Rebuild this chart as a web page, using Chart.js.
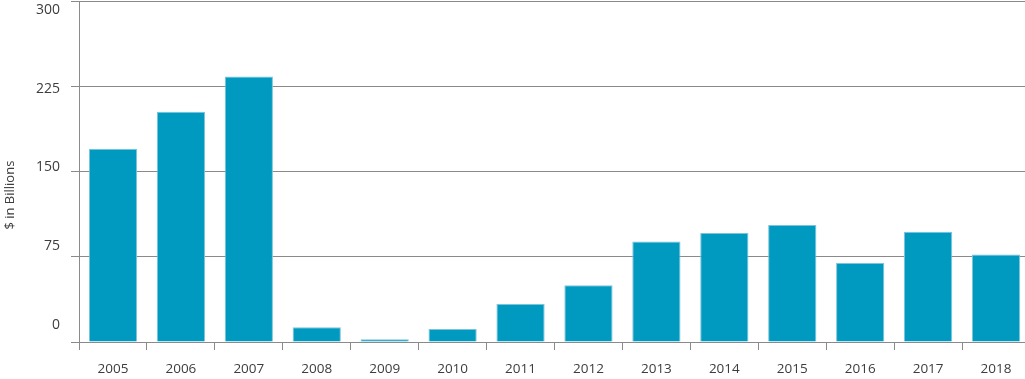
<!DOCTYPE html>
<html>
<head>
<meta charset="utf-8">
<script src="https://cdn.jsdelivr.net/npm/chart.js@4.4.1/dist/chart.umd.min.js"></script>
<style>
  html, body { margin: 0; padding: 0; background: #ffffff; overflow: hidden; }
  #clip { width: 1025px; height: 379px; overflow: hidden; position: relative; }
  #wrap { width: 1030px; height: 379px; position: absolute; left: 0; top: 0; }
</style>
</head>
<body>
<div id="clip"><div id="wrap"><canvas id="c"></canvas></div></div>
<script>
const categories = ['2005','2006','2007','2008','2009','2010','2011','2012','2013','2014','2015','2016','2017','2018'];
const values = [170, 202.5, 233.5, 13, 2.5, 11.5, 33.5, 50, 88.5, 96, 103, 69.5, 97, 77];
const yTickLabels = [0, 75, 150, 225, 300];
const yTitle = '$ in Billions';

const gridGray = '#8a8a8a';
const textGray = '#3d3d3d';

new Chart(document.getElementById('c'), {
  type: 'bar',
  data: {
    labels: categories,
    datasets: [{
      data: values,
      backgroundColor: '#0099bf',
      borderColor: '#7cc4dc',
      borderWidth: 1,
      barPercentage: 0.71,
      categoryPercentage: 1.0
    }]
  },
  options: {
    responsive: true,
    maintainAspectRatio: false,
    animation: false,
    layout: { padding: { left: 0, right: 0, top: 1, bottom: 0 } },
    plugins: { legend: { display: false }, tooltip: { enabled: false } },
    scales: {
      x: {
        type: 'category',
        offset: true,
        grid: { display: true, drawOnChartArea: false, drawTicks: true, tickLength: 8, color: gridGray, offset: true },
        border: { display: true, color: gridGray, width: 1 },
        ticks: { color: textGray, font: { family: 'Open Sans', size: 13.5 }, padding: 11, maxRotation: 0, autoSkip: false },
        afterFit: s => { s.height = 37; s.paddingLeft = 0; s.paddingRight = 0; }
      },
      y: {
        position: 'left',
        weight: 0,
        min: 0,
        max: 300,
        ticks: { display: false, stepSize: 75 },
        afterBuildTicks: s => { s.ticks = yTickLabels.map(v => ({ value: v })); },
        grid: { color: gridGray, lineWidth: 1, drawTicks: true, tickLength: 8 },
        border: { display: true, color: gridGray, width: 1 },
        afterFit: s => { s.width = 8; s.paddingTop = 0; s.paddingBottom = 0; }
      },
      y2: {
        position: 'left',
        weight: 1,
        min: -16.19,
        max: 308.57,
        afterBuildTicks: s => { s.ticks = yTickLabels.map(v => ({ value: v })); },
        grid: { display: false, drawTicks: false },
        border: { display: false },
        ticks: { color: textGray, font: { family: 'Open Sans', size: 14 }, padding: 11 },
        title: {
          display: true,
          text: yTitle + '\u00a0'.repeat(14),
          color: textGray,
          font: { family: 'Open Sans', size: 13 },
          padding: { top: 2, bottom: 0 }
        },
        afterFit: s => { s.width = 71; s.paddingTop = 0; s.paddingBottom = 0; }
      }
    }
  }
});
</script>
</body>
</html>
